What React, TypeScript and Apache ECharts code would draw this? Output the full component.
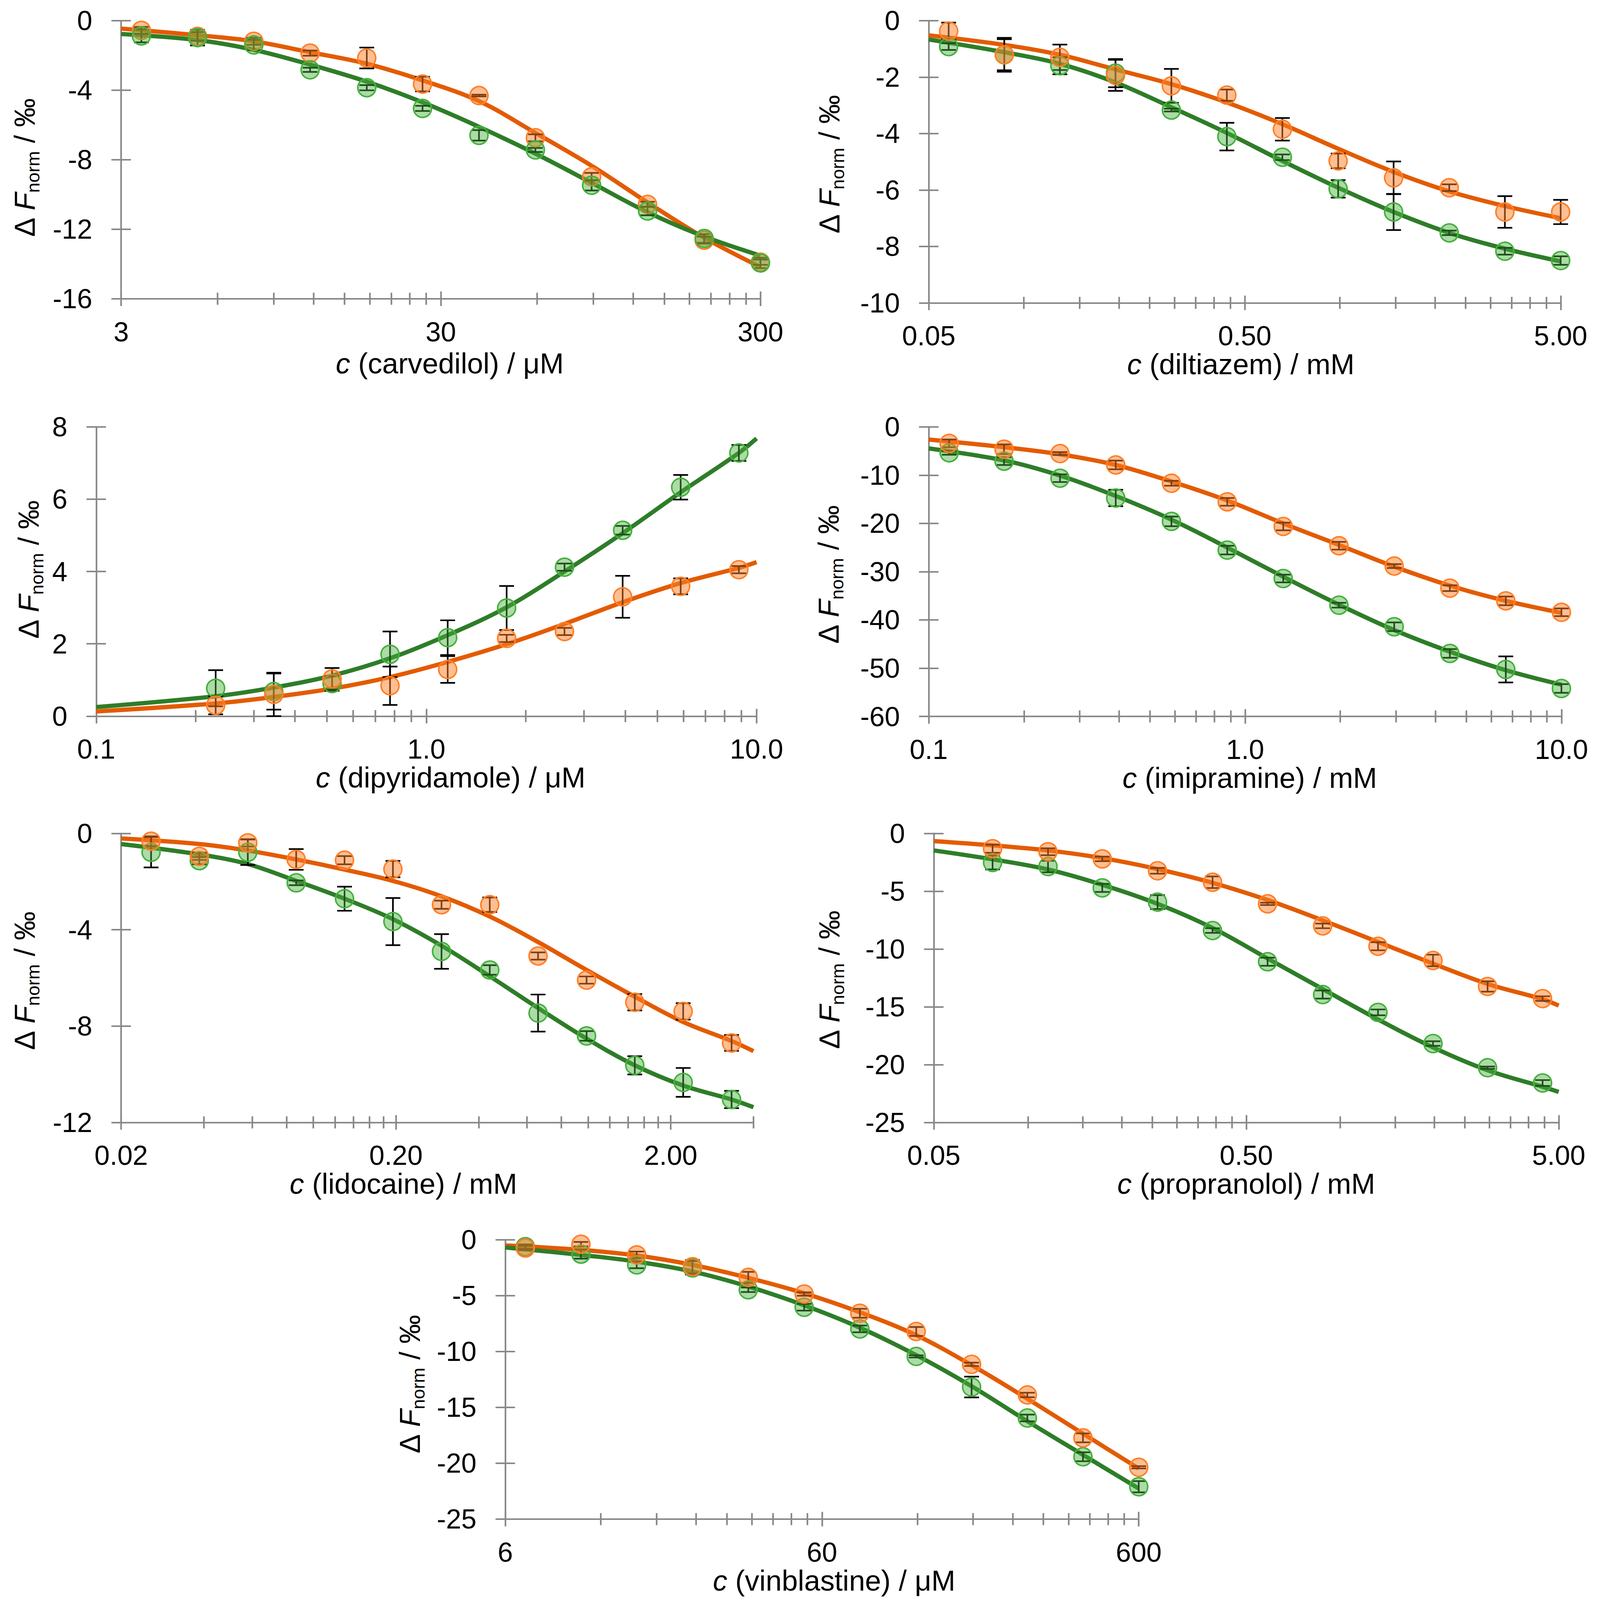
import React, { useEffect, useRef } from 'react';
import * as echarts from 'echarts';

const FONT = '"Liberation Sans", Arial, Helvetica, sans-serif';
const AXIS_COLOR = '#898989';
const ORANGE_LINE = '#E35B00';
const GREEN_LINE = '#2E7D28';
const ORANGE_FILL = 'rgba(255,128,40,0.5)';
const ORANGE_EDGE = '#FF7F27';
const GREEN_FILL = 'rgba(70,175,60,0.45)';
const GREEN_EDGE = '#44B03D';

// the page is photographed at 4096 x 4096; the reference is 4107 x 5045
const W = 4096;
const H = 4096;
const SX = W / 4107;
const SY = H / 5045;
const FS = 0.9;

// ---------- Panel 1: carvedilol (µM) ----------
const carvConc = [3.47, 5.2, 7.8, 11.7, 17.6, 26.3, 39.5, 59.3, 88.9, 133, 200, 300];
const carvOrange = [-0.56, -0.91, -1.19, -1.87, -2.15, -3.65, -4.31, -6.74, -8.98, -10.57, -12.63, -13.9];
const carvOrangeErr = [0.2, 0.25, 0.2, 0.15, 0.6, 0.42, 0.05, 0.2, 0.22, 0.15, 0.2, 0.15];
const carvGreen = [-0.88, -0.98, -1.4, -2.83, -3.86, -5.05, -6.6, -7.44, -9.47, -10.95, -12.53, -13.94];
const carvGreenErr = [0.37, 0.45, 0.3, 0.12, 0.15, 0.15, 0.3, 0.12, 0.3, 0.25, 0.25, 0.3];
const carvFitX = [3, 5.2, 7.8, 11.7, 17.6, 26.3, 39.5, 59.3, 88.9, 133, 200, 300];
const carvFitOrange = [-0.46, -0.84, -1.19, -1.82, -2.48, -3.44, -4.63, -6.46, -8.35, -10.46, -12.49, -14.18];
const carvFitGreen = [-0.77, -1.12, -1.68, -2.53, -3.51, -4.7, -6.11, -7.65, -9.33, -11.02, -12.42, -13.52];
const carvTicks = [3, 30, 300];
const carvTickLabels = ['3', '30', '300'];

// ---------- Panel 2: diltiazem (mM) ----------
const diltConc = [0.0578, 0.0867, 0.13, 0.195, 0.293, 0.439, 0.658, 0.988, 1.48, 2.22, 3.33, 5.0];
const diltOrange = [-0.37, -1.21, -1.3, -1.94, -2.31, -2.64, -3.85, -4.97, -5.57, -5.92, -6.78, -6.78];
const diltOrangeErr = [0.3, 0.6, 0.45, 0.55, 0.6, 0.2, 0.4, 0.26, 0.58, 0.12, 0.56, 0.43];
const diltGreen = [-0.92, -1.21, -1.6, -1.86, -3.17, -4.11, -4.84, -5.96, -6.78, -7.52, -8.17, -8.5];
const diltGreenErr = [0.12, 0.55, 0.3, 0.5, 0.05, 0.49, 0.1, 0.31, 0.64, 0.08, 0.12, 0.15];
const diltFitX = [0.05, 0.0867, 0.13, 0.195, 0.293, 0.439, 0.658, 0.988, 1.48, 2.22, 3.33, 5.0];
const diltFitOrange = [-0.52, -0.86, -1.21, -1.73, -2.25, -2.9, -3.67, -4.54, -5.36, -6.05, -6.57, -7.0];
const diltFitGreen = [-0.67, -1.12, -1.53, -2.19, -3.07, -3.98, -4.97, -5.92, -6.78, -7.52, -8.08, -8.53];
const diltTicks = [0.05, 0.5, 5];
const diltTickLabels = ['0.05', '0.50', '5.00'];

// ---------- Panel 3: dipyridamole (µM) ----------
const dipyConc = [0.23, 0.345, 0.518, 0.776, 1.16, 1.75, 2.62, 3.93, 5.89, 8.84];
const dipyOrange = [0.3, 0.6, 1.03, 0.84, 1.29, 2.15, 2.34, 3.3, 3.59, 4.05];
const dipyOrangeErr = [0.25, 0.6, 0.3, 0.53, 0.37, 0.1, 0.1, 0.58, 0.22, 0.1];
const dipyGreen = [0.77, 0.68, 0.9, 1.71, 2.17, 2.99, 4.12, 5.14, 6.33, 7.28];
const dipyGreenErr = [0.5, 0.5, 0.2, 0.63, 0.48, 0.61, 0.1, 0.12, 0.34, 0.22];
const dipyFitX = [0.1, 0.23, 0.345, 0.518, 0.776, 1.16, 1.75, 2.62, 3.93, 5.89, 8.84, 10];
const dipyFitOrange = [0.13, 0.35, 0.53, 0.76, 1.08, 1.5, 1.99, 2.55, 3.15, 3.68, 4.1, 4.26];
const dipyFitGreen = [0.25, 0.55, 0.79, 1.12, 1.6, 2.24, 3.01, 4.0, 5.06, 6.19, 7.28, 7.68];
const dipyTicks = [0.1, 1, 10];
const dipyTickLabels = ['0.1', '1.0', '10.0'];

// ---------- Panel 4: imipramine (mM) ----------
const imipConc = [0.116, 0.173, 0.26, 0.39, 0.585, 0.878, 1.32, 1.98, 2.96, 4.44, 6.67, 10];
const imipOrange = [-3.42, -4.63, -5.53, -7.89, -11.68, -15.53, -20.63, -24.63, -28.84, -33.42, -36.05, -38.42];
const imipOrangeErr = [0.8, 1.0, 0.3, 0.9, 0.5, 0.8, 0.8, 0.8, 0.4, 0.6, 0.9, 0.8];
const imipGreen = [-5.37, -7.1, -10.63, -14.74, -19.58, -25.53, -31.42, -36.95, -41.42, -46.95, -50.26, -54.21];
const imipGreenErr = [0.4, 0.8, 0.8, 1.7, 1.0, 0.9, 0.8, 0.5, 0.9, 0.9, 2.7, 0.9];
const imipFitX = [0.1, 0.173, 0.26, 0.39, 0.585, 0.878, 1.32, 1.98, 2.96, 4.44, 6.67, 10];
const imipFitOrange = [-2.63, -4.21, -5.68, -7.89, -11.32, -15.26, -20.0, -24.47, -28.95, -32.89, -36.05, -38.53];
const imipFitGreen = [-4.47, -6.95, -10.1, -14.32, -19.21, -25.0, -31.05, -36.84, -42.1, -46.58, -50.42, -53.42];
const imipTicks = [0.1, 1, 10];
const imipTickLabels = ['0.1', '1.0', '10.0'];

// ---------- Panel 5: lidocaine (mM) ----------
const lidoConc = [0.0257, 0.0385, 0.0578, 0.0867, 0.13, 0.195, 0.293, 0.439, 0.658, 0.988, 1.48, 2.22, 3.33];
const lidoOrange = [-0.32, -0.95, -0.39, -1.08, -1.11, -1.48, -2.96, -2.96, -5.09, -6.09, -7.01, -7.39, -8.7];
const lidoOrangeErr = [0.2, 0.15, 0.15, 0.43, 0.17, 0.34, 0.17, 0.3, 0.15, 0.15, 0.34, 0.34, 0.33];
const lidoGreen = [-0.78, -1.13, -0.78, -2.05, -2.71, -3.66, -4.9, -5.67, -7.46, -8.41, -9.63, -10.34, -11.05];
const lidoGreenErr = [0.63, 0.15, 0.53, 0.1, 0.5, 0.98, 0.72, 0.2, 0.77, 0.2, 0.38, 0.6, 0.36];
const lidoFitX = [0.02, 0.0385, 0.0578, 0.0867, 0.13, 0.195, 0.293, 0.439, 0.658, 0.988, 1.48, 2.22, 3.33, 4];
const lidoFitOrange = [-0.21, -0.44, -0.71, -1.08, -1.5, -1.97, -2.61, -3.45, -4.51, -5.67, -6.78, -7.83, -8.62, -9.04];
const lidoFitGreen = [-0.44, -0.87, -1.27, -1.97, -2.71, -3.56, -4.66, -5.93, -7.25, -8.52, -9.63, -10.47, -11.05, -11.37];
const lidoTicks = [0.02, 0.2, 2];
const lidoTickLabels = ['0.02', '0.20', '2.00'];

// ---------- Panel 6: propranolol (mM) ----------
const propConc = [0.0771, 0.116, 0.173, 0.26, 0.39, 0.585, 0.878, 1.32, 1.98, 2.96, 4.44];
const propOrange = [-1.32, -1.58, -2.2, -3.23, -4.22, -6.09, -8.0, -9.76, -10.99, -13.24, -14.29];
const propOrangeErr = [0.35, 0.3, 0.2, 0.25, 0.5, 0.1, 0.2, 0.35, 0.5, 0.45, 0.2];
const propGreen = [-2.51, -2.86, -4.71, -5.94, -8.4, -11.1, -13.94, -15.48, -18.18, -20.27, -21.59];
const propGreenErr = [0.6, 0.5, 0.35, 0.6, 0.2, 0.35, 0.35, 0.25, 0.2, 0.1, 0.25];
const propFitX = [0.05, 0.0771, 0.116, 0.173, 0.26, 0.39, 0.585, 0.878, 1.32, 1.98, 2.96, 4.44, 5];
const propFitOrange = [-0.66, -1.03, -1.47, -2.13, -3.08, -4.27, -5.76, -7.52, -9.39, -11.26, -13.02, -14.34, -14.89];
const propFitGreen = [-1.47, -2.24, -3.12, -4.44, -6.09, -8.18, -10.82, -13.46, -16.09, -18.51, -20.49, -21.92, -22.36];
const propTicks = [0.05, 0.5, 5];
const propTickLabels = ['0.05', '0.50', '5.00'];

// ---------- Panel 7: vinblastine (µM) ----------
const vinbConc = [6.94, 10.4, 15.6, 23.4, 35.1, 52.7, 79.0, 119, 178, 267, 400, 600];
const vinbOrange = [-0.74, -0.4, -1.36, -2.41, -3.37, -4.86, -6.58, -8.21, -11.15, -13.89, -17.73, -20.36];
const vinbOrangeErr = [0.2, 0.2, 0.3, 0.6, 0.5, 0.15, 0.4, 0.4, 0.15, 0.2, 0.4, 0.1];
const vinbGreen = [-0.62, -1.29, -2.25, -2.52, -4.48, -6.04, -7.98, -10.44, -13.18, -15.95, -19.42, -22.1];
const vinbGreenErr = [0.2, 0.4, 0.3, 0.6, 0.2, 0.3, 0.3, 0.1, 0.93, 0.3, 0.4, 0.5];
const vinbFitX = [6, 10.4, 15.6, 23.4, 35.1, 52.7, 79.0, 119, 178, 267, 400, 600];
const vinbFitOrange = [-0.51, -0.91, -1.41, -2.25, -3.41, -4.79, -6.49, -8.54, -11.22, -14.23, -17.35, -20.47];
const vinbFitGreen = [-0.69, -1.36, -1.96, -2.85, -4.19, -5.87, -7.87, -10.33, -13.11, -16.24, -19.25, -22.26];
const vinbTicks = [6, 60, 600];
const vinbTickLabels = ['6', '60', '600'];

type Panel = {
  drug: string; unit: string;
  xMin: number; xMax: number; ticks: number[]; tickLabels: string[];
  yMin: number; yMax: number; yStep: number;
  conc: number[]; orange: number[]; orangeErr: number[]; green: number[]; greenErr: number[];
  fitX: number[]; fitOrange: number[]; fitGreen: number[]; greenOnTop: boolean;
};

const panels: Panel[] = [
  { drug: 'carvedilol', unit: 'μM', xMin: 3, xMax: 300, ticks: carvTicks, tickLabels: carvTickLabels, yMin: -16, yMax: 0, yStep: 4,
    conc: carvConc, orange: carvOrange, orangeErr: carvOrangeErr, green: carvGreen, greenErr: carvGreenErr,
    fitX: carvFitX, fitOrange: carvFitOrange, fitGreen: carvFitGreen, greenOnTop: true },
  { drug: 'diltiazem', unit: 'mM', xMin: 0.05, xMax: 5, ticks: diltTicks, tickLabels: diltTickLabels, yMin: -10, yMax: 0, yStep: 2,
    conc: diltConc, orange: diltOrange, orangeErr: diltOrangeErr, green: diltGreen, greenErr: diltGreenErr,
    fitX: diltFitX, fitOrange: diltFitOrange, fitGreen: diltFitGreen, greenOnTop: false },
  { drug: 'dipyridamole', unit: 'μM', xMin: 0.1, xMax: 10, ticks: dipyTicks, tickLabels: dipyTickLabels, yMin: 0, yMax: 8, yStep: 2,
    conc: dipyConc, orange: dipyOrange, orangeErr: dipyOrangeErr, green: dipyGreen, greenErr: dipyGreenErr,
    fitX: dipyFitX, fitOrange: dipyFitOrange, fitGreen: dipyFitGreen, greenOnTop: false },
  { drug: 'imipramine', unit: 'mM', xMin: 0.1, xMax: 10, ticks: imipTicks, tickLabels: imipTickLabels, yMin: -60, yMax: 0, yStep: 10,
    conc: imipConc, orange: imipOrange, orangeErr: imipOrangeErr, green: imipGreen, greenErr: imipGreenErr,
    fitX: imipFitX, fitOrange: imipFitOrange, fitGreen: imipFitGreen, greenOnTop: false },
  { drug: 'lidocaine', unit: 'mM', xMin: 0.02, xMax: 4, ticks: lidoTicks, tickLabels: lidoTickLabels, yMin: -12, yMax: 0, yStep: 4,
    conc: lidoConc, orange: lidoOrange, orangeErr: lidoOrangeErr, green: lidoGreen, greenErr: lidoGreenErr,
    fitX: lidoFitX, fitOrange: lidoFitOrange, fitGreen: lidoFitGreen, greenOnTop: false },
  { drug: 'propranolol', unit: 'mM', xMin: 0.05, xMax: 5, ticks: propTicks, tickLabels: propTickLabels, yMin: -25, yMax: 0, yStep: 5,
    conc: propConc, orange: propOrange, orangeErr: propOrangeErr, green: propGreen, greenErr: propGreenErr,
    fitX: propFitX, fitOrange: propFitOrange, fitGreen: propFitGreen, greenOnTop: false },
  { drug: 'vinblastine', unit: 'μM', xMin: 6, xMax: 600, ticks: vinbTicks, tickLabels: vinbTickLabels, yMin: -25, yMax: 0, yStep: 5,
    conc: vinbConc, orange: vinbOrange, orangeErr: vinbOrangeErr, green: vinbGreen, greenErr: vinbGreenErr,
    fitX: vinbFitX, fitOrange: vinbFitOrange, fitGreen: vinbFitGreen, greenOnTop: false },
];

// plot-area rectangles in reference pixels, distances of title baselines from the axes,
// and small title shifts (all in reference pixels; scaled to the page below)
const layout = [
  { l: 311, r: 1952, t: 65, b: 942, yNameDist: 222, xNameDist: 235, xShift: 23, yShift: 26 },
  { l: 2384, r: 4006, t: 65, b: 955, yNameDist: 229, xNameDist: 222, xShift: -10, yShift: 9 },
  { l: 247, r: 1942, t: 1346, b: 2258, yNameDist: 148, xNameDist: 197, xShift: 62, yShift: -5 },
  { l: 2384, r: 4008, t: 1346, b: 2259, yNameDist: 231, xNameDist: 196, xShift: 12, yShift: 10 },
  { l: 311, r: 1934, t: 2628, b: 3539, yNameDist: 222, xNameDist: 196, xShift: -87, yShift: 10 },
  { l: 2397, r: 4001, t: 2628, b: 3539, yNameDist: 242, xNameDist: 196, xShift: 0, yShift: 7 },
  { l: 1297, r: 2923, t: 3909, b: 4790, yNameDist: 219, xNameDist: 196, xShift: 31, yShift: 16 },
];

const F_TICK = 78 * FS;
const F_NAME = 82 * FS;
const F_SUB = 52 * FS;

function errorBars(xs: number[], ys: number[], es: number[], xi: number, yi: number, z: number) {
  const hw = 19 * SX;
  return {
    type: 'custom',
    xAxisIndex: xi,
    yAxisIndex: yi,
    z,
    silent: true,
    clip: false,
    data: xs.map((x, i) => [x, ys[i] - es[i], ys[i] + es[i]]),
    encode: { x: 0, y: [1, 2] },
    renderItem: (_params: any, api: any) => {
      const x = api.value(0);
      const lo = api.coord([x, api.value(1)]);
      const hi = api.coord([x, api.value(2)]);
      const style = { stroke: '#000', lineWidth: 4.2, fill: 'none' };
      return {
        type: 'group',
        children: [
          { type: 'line', shape: { x1: lo[0], y1: lo[1], x2: hi[0], y2: hi[1] }, style },
          { type: 'line', shape: { x1: lo[0] - hw, y1: lo[1], x2: lo[0] + hw, y2: lo[1] }, style },
          { type: 'line', shape: { x1: hi[0] - hw, y1: hi[1], x2: hi[0] + hw, y2: hi[1] }, style },
        ],
      };
    },
  };
}

function buildOption() {
  const grid: any[] = [];
  const xAxis: any[] = [];
  const yAxis: any[] = [];
  const series: any[] = [];
  const tickLine = { color: AXIS_COLOR, width: 4.2 };

  panels.forEach((p, i) => {
    const L = layout[i];
    grid.push({
      left: L.l * SX, top: L.t * SY, width: (L.r - L.l) * SX, height: (L.b - L.t) * SY,
      containLabel: false, outerBoundsMode: 'none',
    });

    const minors: number[] = [];
    p.ticks.forEach((m) => {
      for (let k = 2; k <= 9; k++) {
        const v = m * k;
        if (v <= p.xMax * (1 + 1e-6)) minors.push(v);
      }
    });
    const xBase = {
      type: 'log', logBase: 10, gridIndex: i, position: 'bottom',
      min: p.xMin * (1 - 1e-7), max: p.xMax * (1 + 1e-7),
      splitLine: { show: false }, minorTick: { show: false }, minorSplitLine: { show: false },
    };
    const fmt = (v: number) => {
      const idx = p.ticks.findIndex((t) => Math.abs(t - v) / t < 1e-4);
      return idx >= 0 ? p.tickLabels[idx] : '';
    };
    const dx = L.xShift * SX;
    const xPad = dx >= 0 ? [0, 0, 0, 2 * dx] : [0, -2 * dx, 0, 0];
    xAxis.push({
      ...xBase,
      axisLine: { show: true, onZero: false, lineStyle: tickLine },
      axisTick: { show: false },
      axisLabel: {
        show: true, customValues: p.ticks, formatter: fmt, fontSize: F_TICK, color: '#000', fontFamily: FONT,
        margin: 72 * SY - 0.13 * F_TICK,
      },
      name: `{i|c}{n| (${p.drug}) / ${p.unit}}`,
      nameLocation: 'middle',
      nameGap: L.xNameDist * SY - 0.8465 * F_NAME,
      nameTextStyle: {
        padding: xPad,
        rich: {
          i: { fontSize: F_NAME, fontStyle: 'italic', fontFamily: FONT, color: '#000', lineHeight: F_NAME },
          n: { fontSize: F_NAME, fontFamily: FONT, color: '#000', lineHeight: F_NAME },
        },
      },
    });
    xAxis.push({
      ...xBase, offset: 23 * SY,
      axisLine: { show: false, onZero: false },
      axisTick: { show: true, inside: true, length: 46 * SY, customValues: p.ticks, lineStyle: tickLine },
      axisLabel: { show: false },
    });
    xAxis.push({
      ...xBase, offset: 19 * SY,
      axisLine: { show: false, onZero: false },
      axisTick: { show: true, inside: true, length: 38 * SY, customValues: minors, lineStyle: tickLine },
      axisLabel: { show: false },
    });

    const yBase = {
      type: 'value', gridIndex: i, position: 'left', min: p.yMin, max: p.yMax, interval: p.yStep,
      splitLine: { show: false },
    };
    const dy = L.yShift * SY;
    const yPad = dy >= 0 ? [0, 2 * dy, 0, 0] : [0, 0, 0, -2 * dy];
    const lhMain = 100 * FS;
    const lhSub = 30 * FS;
    const baselineAboveBottom = lhMain / 2 - 0.3465 * F_NAME;
    yAxis.push({
      ...yBase,
      axisLine: { show: true, onZero: false, lineStyle: tickLine },
      axisTick: { show: false },
      axisLabel: { fontSize: F_TICK, color: '#000', fontFamily: FONT, margin: 74 * SX },
      name: '{a|Δ }{f|F}{s|norm}{a| / ‰}',
      nameLocation: 'middle',
      nameRotate: 90,
      nameGap: L.yNameDist * SX - baselineAboveBottom,
      nameTextStyle: {
        padding: yPad,
        rich: {
          a: { fontSize: F_NAME, fontFamily: FONT, color: '#000', lineHeight: lhMain },
          f: { fontSize: F_NAME, fontFamily: FONT, color: '#000', lineHeight: lhMain, fontStyle: 'italic' },
          s: { fontSize: F_SUB, fontFamily: FONT, color: '#000', lineHeight: lhSub, verticalAlign: 'bottom' },
        },
      },
    });
    yAxis.push({
      ...yBase, offset: 25 * SX,
      axisLine: { show: false, onZero: false },
      axisTick: { show: true, inside: true, length: 50 * SX, lineStyle: tickLine },
      axisLabel: { show: false },
    });

    const xi = 3 * i;
    const yi = 2 * i;
    const lineSeries = (fx: number[], fy: number[], color: string) => ({
      type: 'line', xAxisIndex: xi, yAxisIndex: yi, z: 2, silent: true, clip: false,
      smooth: 0.35, symbol: 'none',
      data: fx.map((x, k) => [x, fy[k]]),
      lineStyle: { color, width: 11 },
    });
    series.push(lineSeries(p.fitX, p.fitOrange, ORANGE_LINE));
    series.push(lineSeries(p.fitX, p.fitGreen, GREEN_LINE));
    series.push(errorBars(p.conc, p.orange, p.orangeErr, xi, yi, 3));
    series.push(errorBars(p.conc, p.green, p.greenErr, xi, yi, 3));
    const scat = (ys: number[], fill: string, edge: string) => ({
      type: 'scatter', xAxisIndex: xi, yAxisIndex: yi, z: 4, silent: true, clip: false,
      symbol: 'circle', symbolSize: 46,
      data: p.conc.map((x, k) => [x, ys[k]]),
      itemStyle: { color: fill, borderColor: edge, borderWidth: 4, opacity: 1 },
    });
    const so = scat(p.orange, ORANGE_FILL, ORANGE_EDGE);
    const sg = scat(p.green, GREEN_FILL, GREEN_EDGE);
    if (p.greenOnTop) { series.push(so); series.push(sg); } else { series.push(sg); series.push(so); }
  });

  return {
    animation: false,
    backgroundColor: '#ffffff',
    textStyle: { fontFamily: FONT },
    grid, xAxis, yAxis, series,
  };
}

export default function App() {
  const ref = useRef<HTMLDivElement>(null);
  useEffect(() => {
    document.body.style.margin = '0';
    document.body.style.overflow = 'hidden';
    const chart = echarts.init(ref.current as HTMLDivElement, null, { renderer: 'svg', width: W, height: H });
    chart.setOption(buildOption() as any);
    return () => chart.dispose();
  }, []);
  return <div ref={ref} style={{ width: W, height: H, background: '#fff', overflow: 'hidden' }} />;
}
